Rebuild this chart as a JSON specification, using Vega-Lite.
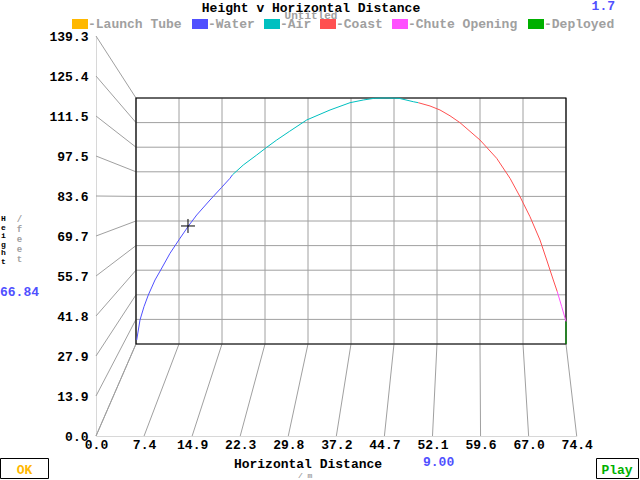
{
  "$schema": "https://vega.github.io/schema/vega-lite/v6.json",
  "width": 640,
  "height": 480,
  "autosize": {"type": "none"},
  "padding": 0,
  "background": "white",
  "config": {
    "view": {"stroke": null},
    "font": "Liberation Mono",
    "text": {"font": "Liberation Mono", "fontWeight": "bold", "fontSize": 13}
  },
  "title": {
    "text": "Height v Horizontal Distance",
    "subtitle": "Untitled",
    "anchor": "middle",
    "frame": "group",
    "orient": "top",
    "offset": -21,
    "dx": -9,
    "font": "Liberation Mono",
    "fontSize": 13,
    "fontWeight": "bold",
    "color": "black",
    "subtitleFont": "Liberation Mono",
    "subtitleFontSize": 11,
    "subtitleFontWeight": "bold",
    "subtitleColor": "#a0a0a0",
    "subtitlePadding": -5
  },
  "datasets": {
    "ticks": [
      {"ax": "x", "v": 0}, {"ax": "x", "v": 7.444}, {"ax": "x", "v": 14.888}, {"ax": "x", "v": 22.332},
      {"ax": "x", "v": 29.776}, {"ax": "x", "v": 37.22}, {"ax": "x", "v": 44.664}, {"ax": "x", "v": 52.108},
      {"ax": "x", "v": 59.552}, {"ax": "x", "v": 66.996}, {"ax": "x", "v": 74.44},
      {"ax": "y", "v": 0}, {"ax": "y", "v": 13.932}, {"ax": "y", "v": 27.864}, {"ax": "y", "v": 41.796},
      {"ax": "y", "v": 55.728}, {"ax": "y", "v": 69.66}, {"ax": "y", "v": 83.592}, {"ax": "y", "v": 97.524},
      {"ax": "y", "v": 111.456}, {"ax": "y", "v": 125.388}, {"ax": "y", "v": 139.32}
    ],
    "trajectory": [
      {"i": 1, "x": 0.12, "h": 2.27, "phase": "Water"},
      {"i": 2, "x": 0.69, "h": 13.59, "phase": "Water"},
      {"i": 3, "x": 1.38, "h": 21.12, "phase": "Water"},
      {"i": 4, "x": 2.13, "h": 27.75, "phase": "Water"},
      {"i": 5, "x": 3.29, "h": 36.25, "phase": "Water"},
      {"i": 6, "x": 4.28, "h": 41.91, "phase": "Water"},
      {"i": 7, "x": 5.89, "h": 51.37, "phase": "Water"},
      {"i": 8, "x": 7.5, "h": 59.3, "phase": "Water"},
      {"i": 9, "x": 9.05, "h": 66.7, "phase": "Water"},
      {"i": 10, "x": 10.51, "h": 73.06, "phase": "Water"},
      {"i": 11, "x": 12.81, "h": 81.55, "phase": "Water"},
      {"i": 12, "x": 14.84, "h": 88.74, "phase": "Water"},
      {"i": 13, "x": 16.27, "h": 93.84, "phase": "Water"},
      {"i": 14, "x": 16.67, "h": 95.71, "phase": "Water"},
      {"i": 14, "x": 16.67, "h": 95.71, "phase": "Air"},
      {"i": 15, "x": 18.57, "h": 101.37, "phase": "Air"},
      {"i": 16, "x": 20.9, "h": 107.04, "phase": "Air"},
      {"i": 17, "x": 22.63, "h": 111.4, "phase": "Air"},
      {"i": 18, "x": 24.36, "h": 115.53, "phase": "Air"},
      {"i": 19, "x": 26.54, "h": 120.35, "phase": "Air"},
      {"i": 20, "x": 29.55, "h": 126.87, "phase": "Air"},
      {"i": 21, "x": 33.59, "h": 132.53, "phase": "Air"},
      {"i": 22, "x": 37.05, "h": 136.66, "phase": "Air"},
      {"i": 23, "x": 39.35, "h": 138.19, "phase": "Air"},
      {"i": 24, "x": 41.25, "h": 139.15, "phase": "Air"},
      {"i": 25, "x": 43.28, "h": 139.32, "phase": "Air"},
      {"i": 26, "x": 45.53, "h": 139.15, "phase": "Air"},
      {"i": 27, "x": 48.01, "h": 137.22, "phase": "Air"},
      {"i": 28, "x": 48.87, "h": 136.66, "phase": "Air"},
      {"i": 28, "x": 48.87, "h": 136.66, "phase": "Coast"},
      {"i": 29, "x": 50.9, "h": 134.79, "phase": "Coast"},
      {"i": 30, "x": 52.63, "h": 132.53, "phase": "Coast"},
      {"i": 31, "x": 54.36, "h": 129.24, "phase": "Coast"},
      {"i": 32, "x": 56.09, "h": 125.33, "phase": "Coast"},
      {"i": 33, "x": 59.55, "h": 115.53, "phase": "Coast"},
      {"i": 34, "x": 62.44, "h": 105.17, "phase": "Coast"},
      {"i": 35, "x": 64.75, "h": 93.84, "phase": "Coast"},
      {"i": 36, "x": 66.48, "h": 83.42, "phase": "Coast"},
      {"i": 37, "x": 68.21, "h": 72.09, "phase": "Coast"},
      {"i": 38, "x": 69.94, "h": 58.89, "phase": "Coast"},
      {"i": 39, "x": 71.1, "h": 47.57, "phase": "Coast"},
      {"i": 40, "x": 72.24, "h": 36.25, "phase": "Coast"},
      {"i": 41, "x": 72.93, "h": 29.62, "phase": "Coast"},
      {"i": 41, "x": 72.93, "h": 29.62, "phase": "Chute Opening"},
      {"i": 42, "x": 73.7, "h": 21.12, "phase": "Chute Opening"},
      {"i": 43, "x": 74.44, "h": 12.74, "phase": "Chute Opening"},
      {"i": 43, "x": 74.44, "h": 12.74, "phase": "Deployed"},
      {"i": 44, "x": 74.44, "h": 0, "phase": "Deployed"}
    ]
  },
  "layer": [
    {
      "layer": [
        {
          "data": {"name": "ticks"},
          "transform": [
            {"calculate": "datum.ax == 'x' ? datum.v : 0", "as": "x1"},
            {"calculate": "datum.ax == 'x' ? 0 : datum.v", "as": "y1"},
            {"calculate": "datum.ax == 'x' ? 6.194 + 0.89453 * datum.v : 6.194", "as": "x2"},
            {"calculate": "datum.ax == 'x' ? 32.044 : 32.044 + 0.615 * datum.v", "as": "y2"}
          ],
          "mark": {"type": "rule", "color": "#a0a0a0", "strokeWidth": 1},
          "encoding": {
            "x": {
              "field": "x1", "type": "quantitative",
              "scale": {"domain": [0, 74.44], "range": [96, 576.7], "nice": false, "zero": false},
              "axis": {
                "orient": "bottom", "offset": -44,
                "values": [0, 7.444, 14.888, 22.332, 29.776, 37.22, 44.664, 52.108, 59.552, 66.996, 74.44],
                "format": ".1f", "labelFlush": false, "labelOverlap": false,
                "ticks": false, "grid": false, "domainColor": "#d8d8d8",
                "labelFont": "Liberation Mono", "labelFontSize": 13, "labelFontWeight": "bold",
                "labelColor": "black", "labelPadding": 2, "labelBaseline": "top",
                "title": "Horizontal Distance", "titleFont": "Liberation Mono", "titleFontSize": 13,
                "titleFontWeight": "bold", "titleColor": "black", "titlePadding": 6, "titleX": 307.5
              }
            },
            "y": {
              "field": "y1", "type": "quantitative",
              "scale": {"domain": [0, 139.32], "range": [436, 36], "nice": false, "zero": false},
              "axis": {
                "orient": "left", "offset": -96,
                "values": [0, 13.932, 27.864, 41.796, 55.728, 69.66, 83.592, 97.524, 111.456, 125.388, 139.32],
                "format": ".1f", "labelFlush": false, "labelOverlap": false,
                "ticks": false, "grid": false, "domainColor": "#d8d8d8",
                "labelFont": "Liberation Mono", "labelFontSize": 13, "labelFontWeight": "bold",
                "labelColor": "black", "labelPadding": 8,
                "title": null
              }
            },
            "x2": {"field": "x2"},
            "y2": {"field": "y2"}
          }
        },
        {
          "data": {"values": [{"t": "1.7"}]},
          "mark": {"type": "text", "align": "right", "baseline": "alphabetic", "color": "#5050ff"},
          "encoding": {"text": {"field": "t"}, "x": {"value": 615}, "y": {"value": 10}}
        },
        {
          "data": {"values": [{"t": "66.84"}]},
          "mark": {"type": "text", "align": "left", "baseline": "alphabetic", "color": "#5050ff"},
          "encoding": {"text": {"field": "t"}, "x": {"value": 0}, "y": {"value": 296}}
        },
        {
          "data": {"values": [{"t": "9.00"}]},
          "mark": {"type": "text", "align": "left", "baseline": "alphabetic", "color": "#5050ff"},
          "encoding": {"text": {"field": "t"}, "x": {"value": 423}, "y": {"value": 466}}
        },
        {
          "data": {"values": [{"t": "/ m"}]},
          "mark": {"type": "text", "align": "left", "baseline": "alphabetic", "color": "#a0a0a0", "fontSize": 8},
          "encoding": {"text": {"field": "t"}, "x": {"value": 298}, "y": {"value": 478}}
        },
        {
          "data": {"values": [{"t": "H\ne\ni\ng\nh\nt"}]},
          "mark": {"type": "text", "align": "center", "baseline": "top", "color": "black", "fontSize": 8, "lineHeight": 8.5, "lineBreak": "\n"},
          "encoding": {"text": {"field": "t"}, "x": {"value": 3.5}, "y": {"value": 215}}
        },
        {
          "data": {"values": [{"t": "/\nf\ne\ne\nt"}]},
          "mark": {"type": "text", "align": "center", "baseline": "top", "color": "#a0a0a0", "fontSize": 9, "lineHeight": 10, "lineBreak": "\n"},
          "encoding": {"text": {"field": "t"}, "x": {"value": 19.5}, "y": {"value": 215}}
        },
        {
          "data": {"values": [{"b": "OK"}]},
          "mark": {"type": "rect", "filled": false, "stroke": "black", "strokeWidth": 1},
          "encoding": {"x": {"value": 0.5}, "x2": {"value": 48.5}, "y": {"value": 458.5}, "y2": {"value": 478.5}}
        },
        {
          "data": {"values": [{"t": "OK"}]},
          "mark": {"type": "text", "align": "center", "baseline": "alphabetic", "color": "#ffb800"},
          "encoding": {"text": {"field": "t"}, "x": {"value": 24.5}, "y": {"value": 474}}
        },
        {
          "data": {"values": [{"b": "Play"}]},
          "mark": {"type": "rect", "filled": false, "stroke": "black", "strokeWidth": 1},
          "encoding": {"x": {"value": 596.5}, "x2": {"value": 638.5}, "y": {"value": 458.5}, "y2": {"value": 478.5}}
        },
        {
          "data": {"values": [{"t": "Play"}]},
          "mark": {"type": "text", "align": "center", "baseline": "alphabetic", "color": "#00b000"},
          "encoding": {"text": {"field": "t"}, "x": {"value": 617}, "y": {"value": 474}}
        },
        {"data": {"values": [{"k": "Launch Tube"}]}, "mark": {"type": "rect", "color": "#ffb800"}, "encoding": {"x": {"value": 72}, "x2": {"value": 88}, "y": {"value": 19}, "y2": {"value": 29}}},
        {"data": {"values": [{"k": "Water"}]}, "mark": {"type": "rect", "color": "#5050ff"}, "encoding": {"x": {"value": 192}, "x2": {"value": 208}, "y": {"value": 19}, "y2": {"value": 29}}},
        {"data": {"values": [{"k": "Air"}]}, "mark": {"type": "rect", "color": "#00c0c0"}, "encoding": {"x": {"value": 264}, "x2": {"value": 280}, "y": {"value": 19}, "y2": {"value": 29}}},
        {"data": {"values": [{"k": "Coast"}]}, "mark": {"type": "rect", "color": "#ff5050"}, "encoding": {"x": {"value": 320}, "x2": {"value": 336}, "y": {"value": 19}, "y2": {"value": 29}}},
        {"data": {"values": [{"k": "Chute Opening"}]}, "mark": {"type": "rect", "color": "#ff50ff"}, "encoding": {"x": {"value": 392}, "x2": {"value": 408}, "y": {"value": 19}, "y2": {"value": 29}}},
        {"data": {"values": [{"k": "Deployed"}]}, "mark": {"type": "rect", "color": "#00b000"}, "encoding": {"x": {"value": 528}, "x2": {"value": 544}, "y": {"value": 19}, "y2": {"value": 29}}},
        {"data": {"values": [{"t": "-Launch Tube"}]}, "mark": {"type": "text", "align": "left", "baseline": "alphabetic", "color": "#a0a0a0"}, "encoding": {"text": {"field": "t"}, "x": {"value": 88}, "y": {"value": 28}}},
        {"data": {"values": [{"t": "-Water"}]}, "mark": {"type": "text", "align": "left", "baseline": "alphabetic", "color": "#a0a0a0"}, "encoding": {"text": {"field": "t"}, "x": {"value": 208}, "y": {"value": 28}}},
        {"data": {"values": [{"t": "-Air"}]}, "mark": {"type": "text", "align": "left", "baseline": "alphabetic", "color": "#a0a0a0"}, "encoding": {"text": {"field": "t"}, "x": {"value": 280}, "y": {"value": 28}}},
        {"data": {"values": [{"t": "-Coast"}]}, "mark": {"type": "text", "align": "left", "baseline": "alphabetic", "color": "#a0a0a0"}, "encoding": {"text": {"field": "t"}, "x": {"value": 336}, "y": {"value": 28}}},
        {"data": {"values": [{"t": "-Chute Opening"}]}, "mark": {"type": "text", "align": "left", "baseline": "alphabetic", "color": "#a0a0a0"}, "encoding": {"text": {"field": "t"}, "x": {"value": 408}, "y": {"value": 28}}},
        {"data": {"values": [{"t": "-Deployed"}]}, "mark": {"type": "text", "align": "left", "baseline": "alphabetic", "color": "#a0a0a0"}, "encoding": {"text": {"field": "t"}, "x": {"value": 544}, "y": {"value": 28}}}
      ]
    },
    {
      "layer": [
        {
          "data": {"name": "ticks"},
          "transform": [{"filter": "datum.ax == 'x'"}],
          "mark": {"type": "rule", "color": "#a0a0a0", "strokeWidth": 1},
          "encoding": {
            "x": {"field": "v", "type": "quantitative", "scale": {"domain": [0, 74.44], "range": [136, 566], "nice": false, "zero": false}, "axis": null},
            "y": {"datum": 0, "type": "quantitative", "scale": {"domain": [0, 139.32], "range": [344, 98], "nice": false, "zero": false}, "axis": null},
            "y2": {"datum": 139.32}
          }
        },
        {
          "data": {"name": "ticks"},
          "transform": [{"filter": "datum.ax == 'y'"}],
          "mark": {"type": "rule", "color": "#a0a0a0", "strokeWidth": 1},
          "encoding": {
            "y": {"field": "v", "type": "quantitative", "scale": {"domain": [0, 139.32], "range": [344, 98], "nice": false, "zero": false}, "axis": null},
            "x": {"datum": 0, "type": "quantitative", "scale": {"domain": [0, 74.44], "range": [136, 566], "nice": false, "zero": false}, "axis": null},
            "x2": {"datum": 74.44}
          }
        },
        {
          "data": {"values": [{"box": "plot"}]},
          "mark": {"type": "rect", "filled": false, "stroke": "black", "strokeWidth": 1.2},
          "encoding": {
            "x": {"datum": 0, "type": "quantitative", "scale": {"domain": [0, 74.44], "range": [136, 566], "nice": false, "zero": false}, "axis": null},
            "x2": {"datum": 74.44},
            "y": {"datum": 0, "type": "quantitative", "scale": {"domain": [0, 139.32], "range": [344, 98], "nice": false, "zero": false}, "axis": null},
            "y2": {"datum": 139.32}
          }
        },
        {
          "data": {"name": "trajectory"},
          "mark": {"type": "line", "strokeWidth": 1},
          "encoding": {
            "x": {"field": "x", "type": "quantitative", "scale": {"domain": [0, 74.44], "range": [136, 566], "nice": false, "zero": false}, "axis": null},
            "y": {"field": "h", "type": "quantitative", "scale": {"domain": [0, 139.32], "range": [344, 98], "nice": false, "zero": false}, "axis": null},
            "order": {"field": "i", "type": "quantitative"},
            "color": {
              "field": "phase", "type": "nominal",
              "scale": {
                "domain": ["Launch Tube", "Water", "Air", "Coast", "Chute Opening", "Deployed"],
                "range": ["#ffb800", "#5050ff", "#00c0c0", "#ff5050", "#ff50ff", "#00b000"]
              },
              "legend": null
            }
          }
        },
        {
          "data": {"values": [{"x": 9.0, "h": 66.84}]},
          "mark": {"type": "point", "shape": "M-1,0H1M0,-1V1", "size": 196, "filled": false, "stroke": "black", "strokeWidth": 1, "opacity": 1},
          "encoding": {
            "x": {"field": "x", "type": "quantitative", "scale": {"domain": [0, 74.44], "range": [136, 566], "nice": false, "zero": false}, "axis": null},
            "y": {"field": "h", "type": "quantitative", "scale": {"domain": [0, 139.32], "range": [344, 98], "nice": false, "zero": false}, "axis": null}
          }
        }
      ]
    }
  ],
  "resolve": {"scale": {"x": "independent", "y": "independent"}}
}
